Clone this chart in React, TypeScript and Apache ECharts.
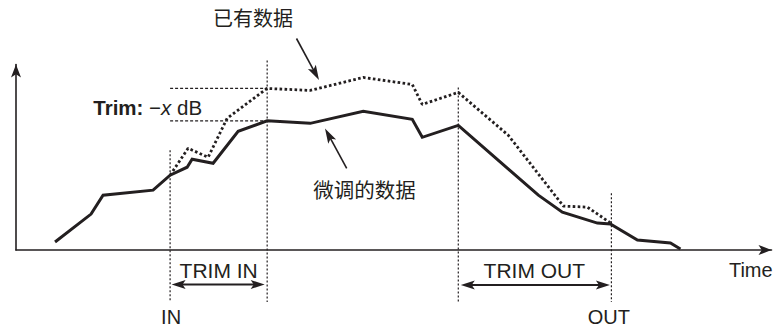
import React, { useEffect, useRef } from "react";
import * as echarts from "echarts";

// Trimmed data (solid line): time vs level
const trimmedTime = [39, 75, 87, 137, 154, 171, 176, 197, 222, 251, 294, 347, 396, 406, 442, 522, 546, 581, 594, 621, 654, 664];
const trimmedLevel = [8, 36, 55, 60, 75, 83, 91, 87, 119, 129.5, 127, 139, 131, 113, 125, 55, 38, 27, 26, 10, 7, 1];

// Existing data (dotted line)
const existingTime = [154, 172, 192, 211, 251, 294, 347, 396, 406, 442, 492, 547, 571, 595];
const existingLevel = [75, 102, 93, 132, 162, 160, 173, 166, 146, 158, 115, 44, 43, 26.5];

// Guide markers: IN, end of trim-in, start of trim-out, OUT
const markerTimes = [154, 251, 442, 595];
const markerTops = [100, 190, 163, 57];
// Levels compared for the trim amount: existing peak, trimmed peak
const trimLevels = [162, 129.5];

const seriesNames = ["已有数据", "微调的数据"];
const timeLabel = "Time";
const trimLabels = ["TRIM IN", "TRIM OUT"];
const pointLabels = ["IN", "OUT"];

const X_MAX = 755;
const Y_MAX = 186;

const INK = "#231f20";
const FONT = "'Liberation Sans', Arial, 'Noto Sans CJK SC', sans-serif";

export default function App() {
  const ref = useRef<HTMLDivElement>(null);

  useEffect(() => {
    document.body.style.margin = "0";
    const chart = echarts.init(ref.current!, null, { renderer: "svg" });
    const axisCommon = {
      type: "value" as const,
      axisTick: { show: false },
      axisLabel: { show: false },
      splitLine: { show: false },
    };
    chart.setOption({
      animation: false,
      backgroundColor: "#ffffff",
      grid: { left: 16, right: 8.5, top: 64.5, bottom: 77 },
      xAxis: {
        ...axisCommon,
        min: 0,
        max: X_MAX,
        axisLine: {
          show: true,
          symbol: ["none", "arrow"],
          symbolSize: [7.5, 13],
          lineStyle: { color: INK, width: 1.6 },
        },
      },
      yAxis: {
        ...axisCommon,
        min: 0,
        max: Y_MAX,
        axisLine: {
          show: true,
          symbol: ["none", "arrow"],
          symbolSize: [7.5, 13],
          lineStyle: { color: INK, width: 1.6 },
        },
      },
      series: [
        {
          name: seriesNames[0],
          type: "line",
          symbol: "none",
          data: existingTime.map((t, i) => [t, existingLevel[i]]),
          lineStyle: { color: INK, width: 2.8, type: [2.6, 2.4], cap: "butt" },
          z: 2,
        },
        {
          name: seriesNames[1],
          type: "line",
          symbol: "none",
          data: trimmedTime.map((t, i) => [t, trimmedLevel[i]]),
          lineStyle: { color: INK, width: 3, join: "miter" },
          z: 3,
        },
      ],
    });

    const P = (x: number, y: number) =>
      chart.convertToPixel({ gridIndex: 0 }, [x, y]) as number[];

    const els: any[] = [];
    const guideStyle = { stroke: INK, lineWidth: 1.2, lineDash: [2, 2] };

    // vertical guides
    markerTimes.forEach((t, i) => {
      const top = P(t, markerTops[i]);
      els.push({
        type: "line",
        shape: { x1: top[0], y1: top[1], x2: top[0], y2: 302 },
        style: guideStyle,
        silent: true,
      });
    });
    // horizontal guides
    trimLevels.forEach((lv) => {
      const a = P(markerTimes[0], lv);
      const b = P(markerTimes[1], lv);
      els.push({
        type: "line",
        shape: { x1: a[0], y1: a[1], x2: b[0], y2: b[1] },
        style: { ...guideStyle, lineDash: [3, 2] },
        silent: true,
      });
    });

    const head = (tip: number[], ang: number, len: number, hw: number) => {
      const dx = Math.cos(ang), dy = Math.sin(ang);
      const px = -dy, py = dx;
      return [
        [tip[0], tip[1]],
        [tip[0] - len * dx + hw * px, tip[1] - len * dy + hw * py],
        [tip[0] - 0.78 * len * dx, tip[1] - 0.78 * len * dy],
        [tip[0] - len * dx - hw * px, tip[1] - len * dy - hw * py],
      ];
    };
    const arrow = (from: number[], to: number[], both: boolean, len: number, hw: number, lw: number) => {
      const ang = Math.atan2(to[1] - from[1], to[0] - from[0]);
      const dx = Math.cos(ang), dy = Math.sin(ang);
      const s = both ? [from[0] + 0.7 * len * dx, from[1] + 0.7 * len * dy] : from;
      const e = [to[0] - 0.7 * len * dx, to[1] - 0.7 * len * dy];
      els.push({ type: "line", shape: { x1: s[0], y1: s[1], x2: e[0], y2: e[1] }, style: { stroke: INK, lineWidth: lw }, silent: true });
      els.push({ type: "polygon", shape: { points: head(to, ang, len, hw) }, style: { fill: INK }, silent: true });
      if (both) {
        els.push({ type: "polygon", shape: { points: head(from, ang + Math.PI, len, hw) }, style: { fill: INK }, silent: true });
      }
    };

    // trim span arrows
    const inX = P(markerTimes[0], 0)[0];
    const tiX = P(markerTimes[1], 0)[0];
    const toX = P(markerTimes[2], 0)[0];
    const outX = P(markerTimes[3], 0)[0];
    arrow([inX + 1.5, 284.5], [tiX - 2.5, 284.5], true, 14, 4.5, 2);
    arrow([toX + 2.5, 285], [outX - 1.5, 285], true, 14, 4.5, 2);

    // annotation arrows
    arrow([296.5, 38.5], [319, 80], false, 15, 4.5, 1.6);
    arrow([346.7, 168.3], [325, 128.5], false, 15, 4.5, 1.6);

    const txt = (text: string, x: number, y: number, size = 20, align = "center") => ({
      type: "text",
      x,
      y,
      silent: true,
      style: { text, fill: INK, fontSize: size, fontFamily: FONT, align, verticalAlign: "middle" },
    });

    els.push(txt(seriesNames[0], 253, 19));
    els.push(txt(seriesNames[1], 364.5, 190, 20.5));
    els.push(txt(timeLabel, 750.8, 270));
    els.push(txt(trimLabels[0], (inX + tiX) / 2, 270.5, 21));
    els.push(txt(trimLabels[1], (toX + outX) / 2 - 0.5, 270.5, 21));
    els.push(txt(pointLabels[0], inX + 1, 317));
    els.push(txt(pointLabels[1], outX - 2.5, 317));

    const rs = { fill: INK, fontSize: 20.5, fontFamily: FONT };
    els.push({
      type: "text",
      x: 93.3,
      y: 107,
      silent: true,
      style: {
        text: "{b|Trim:} {n|−}{i|x}{n| dB}",
        fill: INK,
        fontSize: 20.5,
        fontFamily: FONT,
        align: "left",
        verticalAlign: "middle",
        rich: {
          b: { ...rs, fontWeight: "bold" },
          n: { ...rs },
          i: { ...rs, fontStyle: "italic" },
        },
      },
    });

    chart.setOption({ graphic: { elements: els } });

    return () => chart.dispose();
  }, []);

  return (
    <div
      ref={ref}
      style={{ position: "absolute", left: 0, top: 0, width: 780, height: 327, background: "#fff" }}
    />
  );
}
